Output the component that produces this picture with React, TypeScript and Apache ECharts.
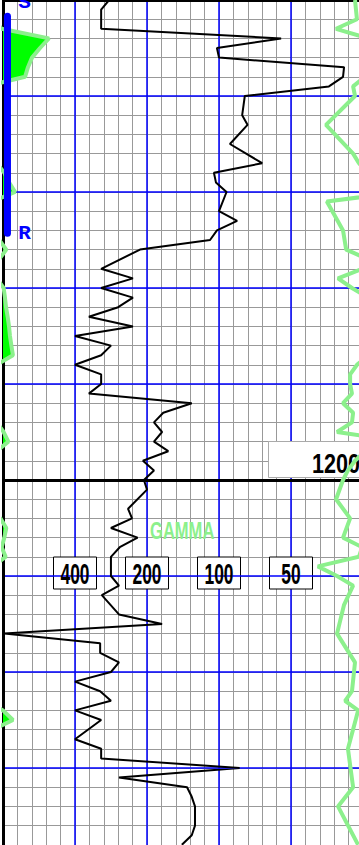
import React, { useEffect, useRef } from 'react';
import * as echarts from 'echarts';

// ---- Depth scale (ft) ----
const DEPTH_TOP = 11950;
const DEPTH_BOTTOM = 12038.02;
const depthLabels = [12000];

// ---- Gamma log track: one value per major division, left to right ----
const gammaScaleTicks = [800, 400, 200, 100, 50, 25, 12.5];
const gammaTickLabels = [400, 200, 100, 50];
const GAMMA_MAX = gammaScaleTicks[0];
const GAMMA_MIN = gammaScaleTicks[gammaScaleTicks.length - 1];

// ---- Black curve ----
const blackDepth = [
  11950, 11951, 11953, 11954, 11955, 11956, 11957, 11958, 11959, 11960, 11961, 11962, 11963, 11965, 11967,
  11968, 11969, 11970, 11972, 11973, 11974, 11975, 11976, 11978, 11979, 11980, 11981, 11982, 11983, 11984,
  11985, 11986, 11987, 11988, 11989, 11990, 11991, 11992, 11993, 11994, 11995, 11996, 11997, 11998, 11999,
  12000, 12001, 12003, 12004, 12005, 12006, 12007, 12008, 12010, 12011, 12012, 12014, 12015, 12016, 12017,
  12018, 12019, 12020, 12021, 12022, 12023, 12024, 12025, 12027, 12028, 12029, 12030, 12031, 12032, 12033,
  12034, 12036, 12037, 12038,
];
const blackValue = [
  288, 311, 311, 55, 102, 100, 30, 30.3, 34.7, 78, 79, 80, 76, 90, 66,
  105, 103, 93, 100, 84, 102, 109, 214, 311, 229, 311, 229, 264, 350, 229,
  400, 283, 311, 400, 311, 311, 350, 130, 171, 187, 173, 187, 163, 208, 187,
  206, 200, 240, 231, 283, 219, 260, 283, 283, 262, 309, 262, 173, 790, 314,
  314, 262, 283, 400, 314, 283, 400, 311, 400, 311, 311, 82, 262, 136, 130,
  126, 126, 130, 143,
];

// ---- Green curve (right side) ----
const gammaDepth = [
  11950, 11952, 11953, 11954, 11958, 11959, 11960, 11963, 11966, 11967, 11968, 11970, 11971, 11974, 11976,
  11977, 11978, 11979, 11980, 11981, 11987, 11988, 11989, 11990, 11991, 11992, 11993, 11994, 11995, 11996,
  11997, 11998, 11999, 12000, 12002, 12004, 12006, 12007, 12008, 12009, 12010, 12011, 12013, 12016, 12019,
  12022, 12023, 12024, 12028, 12032, 12034, 12038,
];
const gammaValue = [
  27.0, 26.5, 32.4, 23.8, 24.5, 27.5, 27.0, 35.7, 27.5, 26.0, 23.8, 17.5, 35.4, 30.3, 29.4,
  23.8, 25.2, 31.8, 27.8, 23.8, 23.8, 26.5, 28.3, 28.3, 27.8, 30.3, 27.5, 27.8, 32.1, 17.5,
  24.5, 27.0, 28.9, 30.3, 32.4, 28.3, 30.3, 25.2, 26.0, 38.6, 32.1, 27.5, 30.0, 32.1, 27.0,
  27.8, 29.7, 26.2, 28.9, 27.5, 31.8, 26.2,
];

// ---- Shaded curve (left edge, mostly off scale) ----
const shadeDepth = [
  11950, 11952, 11953, 11954, 11955, 11956, 11957, 11958, 11959, 11966, 11967, 11968, 11969, 11970, 11971,
  11974, 11975, 11976, 11977, 11978, 11979, 11980, 11981, 11982, 11983, 11984, 11985, 11986, 11987, 11988,
  11993, 11994, 11995, 11996, 11997, 12003, 12004, 12005, 12006, 12007, 12008, 12009, 12023, 12024, 12025,
  12026, 12038,
];
const shadeValue = [
  900, 880, 810, 514, 560, 605, 629, 647, 950, 950, 850, 790, 755, 712, 890,
  950, 830, 775, 830, 950, 850, 795, 785, 777, 765, 755, 748, 738, 727, 850,
  950, 850, 795, 760, 850, 950, 820, 775, 790, 810, 780, 880, 950, 800, 727,
  880, 950,
];

// ---- Core interval (blue bar) ----
const coreTopDepth = 11951.7;
const coreBottomDepth = 11974.3;
const coreTopLabel = 'S';
const coreBottomLabel = 'R';
const CORE_TRACK = 0.31; // position in minor divisions of the track

const curveName = 'GAMMA';

const SANS = '"Liberation Sans", Arial, sans-serif';
const LIGHT_GREEN = '#8cf08c';
const SCALE_ROW_Y = 573;

const zip = (a: number[], b: number[]) => a.map((d, i) => [b[i], d]);

export default function App() {
  const ref = useRef<HTMLDivElement>(null);
  useEffect(() => {
    if (!ref.current) return;
    const chart = echarts.init(ref.current, null, { renderer: 'svg' });
    const option: any = {
      animation: false,
      grid: { left: 3, top: 0, width: 432, height: 845, outerBoundsMode: 'none', containLabel: false },
      xAxis: [
        { type: 'log', logBase: 2, inverse: true, min: GAMMA_MIN, max: GAMMA_MAX, show: false },
        {
          type: 'value', min: 0, max: 30, interval: 1, position: 'top', z: 0,
          axisLine: { show: false }, axisTick: { show: false }, axisLabel: { show: false },
          splitLine: { show: true, lineStyle: { color: '#999', width: 1 } },
        },
        {
          type: 'value', min: 0, max: 6, interval: 1, position: 'bottom', z: 1,
          axisLine: { show: false }, axisTick: { show: false }, axisLabel: { show: false },
          splitLine: { show: true, lineStyle: { color: '#0000ff', width: 1.5 } },
        },
      ],
      yAxis: [
        {
          type: 'value', inverse: true, min: DEPTH_TOP, max: DEPTH_BOTTOM, interval: 2, position: 'left', z: 0,
          axisLine: { show: false }, axisTick: { show: false }, axisLabel: { show: false },
          splitLine: { show: true, showMaxLine: false, lineStyle: { color: '#999', width: 1 } },
        },
        {
          type: 'value', inverse: true, min: DEPTH_TOP, max: DEPTH_BOTTOM, interval: 10, position: 'left', z: 1.2,
          axisLine: { show: false }, axisTick: { show: false }, axisLabel: { show: false },
          splitLine: { show: true, showMaxLine: false, lineStyle: { color: '#0000ff', width: 1.5 } },
        },
        {
          type: 'value', inverse: true, min: DEPTH_TOP, max: DEPTH_BOTTOM, interval: 50, position: 'left', z: 1.5,
          axisLine: { show: true, onZero: false, lineStyle: { color: '#000', width: 3 } },
          axisTick: { show: false }, axisLabel: { show: false },
          splitLine: { show: true, showMaxLine: false, lineStyle: { color: '#000', width: 3 } },
        },
      ],
      series: [
        {
          type: 'custom', xAxisIndex: 0, yAxisIndex: 0, clip: true, silent: true,
          data: [[GAMMA_MAX, DEPTH_TOP]],
          renderItem: (_p: any, api: any) => {
            const pts = shadeDepth.map((d, i) => api.coord([shadeValue[i], d]));
            pts.push(api.coord([GAMMA_MAX, shadeDepth[shadeDepth.length - 1]]));
            pts.push(api.coord([GAMMA_MAX, shadeDepth[0]]));
            return { type: 'polygon', shape: { points: pts }, style: { fill: '#00ff00' } };
          },
        },
        {
          type: 'line', xAxisIndex: 0, yAxisIndex: 0, symbol: 'none', silent: true,
          data: zip(shadeDepth, shadeValue),
          lineStyle: { color: LIGHT_GREEN, width: 4 },
        },
        {
          type: 'line', name: curveName, xAxisIndex: 0, yAxisIndex: 0, symbol: 'none', silent: true,
          data: zip(gammaDepth, gammaValue),
          lineStyle: { color: LIGHT_GREEN, width: 4 },
        },
        {
          type: 'line', xAxisIndex: 0, yAxisIndex: 0, symbol: 'none', silent: true,
          data: zip(blackDepth, blackValue),
          lineStyle: { color: '#000', width: 2 },
        },
        {
          type: 'line', xAxisIndex: 1, yAxisIndex: 0, symbol: 'none', silent: true, clip: false,
          data: [[CORE_TRACK, coreTopDepth], [CORE_TRACK, coreBottomDepth]],
          lineStyle: { color: '#0000ff', width: 7, cap: 'round' },
        },
      ],
    };
    chart.setOption(option);

    // Labels placed through the axes' own scales
    const graphics: any[] = [];
    gammaTickLabels.forEach((v) => {
      const px = chart.convertToPixel({ xAxisIndex: 0 }, v) as number;
      graphics.push({
        type: 'rect', z: 1.1, silent: true,
        shape: { x: px - 21.5, y: SCALE_ROW_Y - 16, width: 43, height: 32 },
        style: { fill: '#fff', stroke: '#000', lineWidth: 1 },
      });
      graphics.push({
        type: 'text', z: 3, silent: true, x: px, y: SCALE_ROW_Y + 1, scaleX: 0.6,
        style: { text: String(v), font: `bold 29px ${SANS}`, fill: '#000', align: 'center', verticalAlign: 'middle' },
      });
    });
    depthLabels.forEach((d) => {
      const py = chart.convertToPixel({ yAxisIndex: 0 }, d) as number;
      graphics.push({
        type: 'rect', z: 1.6, silent: true,
        shape: { x: 268.5, y: py - 38.5, width: 120, height: 36 },
        style: { fill: '#fff', stroke: '#aaa', lineWidth: 1 },
      });
      graphics.push({
        type: 'text', z: 1.7, silent: true, x: 312, y: py - 16, scaleX: 0.8,
        style: { text: String(d), font: `bold 27px ${SANS}`, fill: '#000', align: 'left', verticalAlign: 'middle' },
      });
    });
    graphics.push({
      type: 'text', z: 3, silent: true, x: 150, y: 531, scaleX: 0.72,
      style: { text: curveName, font: `bold 23px ${SANS}`, fill: LIGHT_GREEN, align: 'left', verticalAlign: 'middle' },
    });
    const coreX = chart.convertToPixel({ xAxisIndex: 1 }, CORE_TRACK) as number;
    const coreTopY = chart.convertToPixel({ yAxisIndex: 0 }, coreTopDepth) as number;
    const coreBotY = chart.convertToPixel({ yAxisIndex: 0 }, coreBottomDepth) as number;
    graphics.push({
      type: 'text', z: 10, silent: true, x: coreX + 17, y: coreTopY - 14,
      style: { text: coreTopLabel, font: 'bold 21px "Liberation Mono", monospace', fill: '#0000ff', align: 'center', verticalAlign: 'middle' },
    });
    graphics.push({
      type: 'text', z: 10, silent: true, x: coreX + 17, y: coreBotY + 0.5,
      style: { text: coreBottomLabel, font: 'bold 21px "Liberation Mono", monospace', fill: '#0000ff', align: 'center', verticalAlign: 'middle' },
    });
    chart.setOption({ graphic: graphics });
    return () => chart.dispose();
  }, []);
  return <div ref={ref} style={{ position: 'fixed', left: 0, top: 0, width: 359, height: 845, background: '#fff' }} />;
}
